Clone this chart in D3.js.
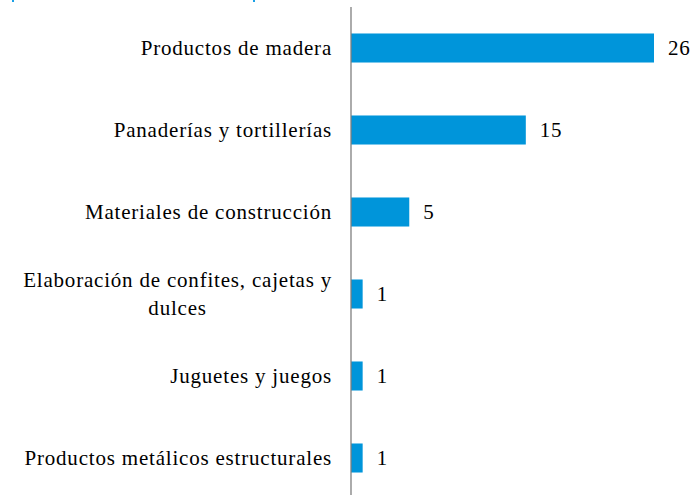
<!DOCTYPE html>
<html>
  <head>
    <meta charset="utf-8">
    <title></title>
    <script src="https://d3js.org/d3.v7.min.js"></script>
  </head>
  <body style="margin:0">
    <div id="my_dataviz"></div>
    <script>

      // data
      var categories = [
        ["Productos de madera"],
        ["Panaderías y tortillerías"],
        ["Materiales de construcción"],
        ["Elaboración de confites, cajetas y", "dulces"],
        ["Juguetes y juegos"],
        ["Productos metálicos estructurales"]
      ];
      var values = [26, 15, 5, 1, 1, 1];

      var width = 694, height = 495;
      var x0 = 351;
      var fontFamily = "Liberation Serif";
      var fontSize = 21;
      var spacing = "0.8px";

      var svg = d3.select("#my_dataviz")
        .append("svg")
          .attr("width", width)
          .attr("height", height);

      // scales
      var x = d3.scaleLinear()
        .domain([0, 26])
        .range([x0, 654]);

      var y = d3.scaleBand()
        .domain(d3.range(values.length))
        .range([7, 499])
        .paddingInner(0.646)
        .paddingOuter(0.323);

      // tiny blue marks at the top edge
      svg.selectAll(".mark")
        .data([12, 253])
        .enter()
        .append("rect")
          .attr("x", function(d) { return d; })
          .attr("y", 0)
          .attr("width", 2)
          .attr("height", 2)
          .attr("fill", "#1aa0e6");

      // bars
      svg.selectAll(".bar")
        .data(values)
        .enter()
        .append("rect")
          .attr("class", "bar")
          .attr("x", x(0))
          .attr("y", function(d, i) { return y(i); })
          .attr("width", function(d) { return x(d) - x(0); })
          .attr("height", y.bandwidth())
          .attr("fill", "#0095da");

      // vertical axis line
      svg.append("line")
        .attr("x1", x0).attr("x2", x0)
        .attr("y1", 7).attr("y2", height)
        .style("stroke", "#7f7f7f")
        .style("stroke-width", 1.3);

      // value labels
      svg.selectAll(".val")
        .data(values)
        .enter()
        .append("text")
          .attr("x", function(d) { return x(d) + 14; })
          .attr("y", function(d, i) { return y(i) + y.bandwidth() / 2; })
          .attr("dy", "0.35em")
          .attr("font-family", fontFamily)
          .attr("font-size", fontSize)
          .attr("letter-spacing", spacing)
          .attr("fill", "#000")
          .text(function(d) { return d; });

      // category labels
      var labels = svg.selectAll(".cat")
        .data(categories)
        .enter()
        .append("text")
          .attr("text-anchor", "middle")
          .attr("font-family", fontFamily)
          .attr("font-size", fontSize)
          .attr("letter-spacing", spacing)
          .attr("fill", "#000")
          .attr("transform", function(d, i) {
            var cy = y(i) + y.bandwidth() / 2;
            return "translate(0," + cy + ")";
          });

      labels.each(function(d) {
        var t = d3.select(this);
        var n = d.length;
        d.forEach(function(line, k) {
          t.append("tspan")
            .attr("x", 0)
            .attr("y", (k - (n - 1) / 2) * 28)
            .attr("dy", "0.35em")
            .text(line);
        });
      });

      // right-align the widest line at x=332, other lines centered on it
      labels.each(function(d) {
        var t = d3.select(this);
        var w = this.getBBox().width;
        t.selectAll("tspan").attr("x", 332 - w / 2);
      });

    </script>
  </body>
</html>
